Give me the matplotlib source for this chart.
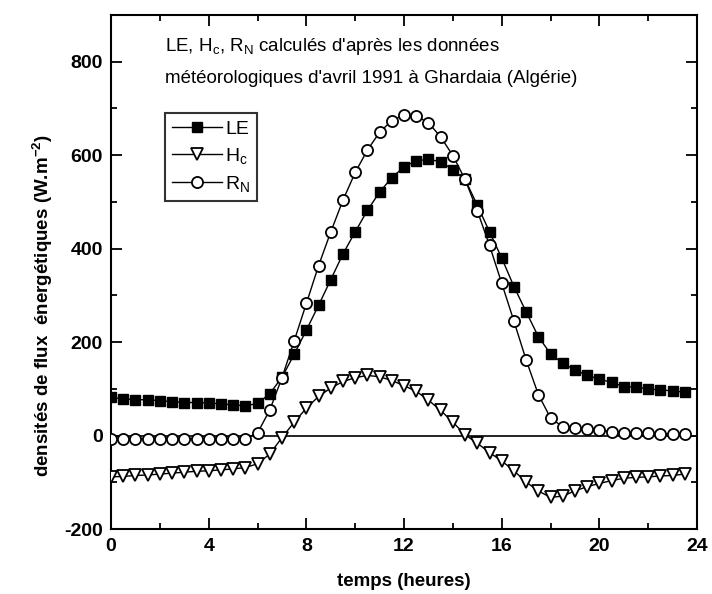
import numpy as np
import matplotlib
matplotlib.use("Agg")
import matplotlib.pyplot as plt
from matplotlib.ticker import MultipleLocator

plt.rcParams['font.family'] = ['Liberation Sans', 'DejaVu Sans']
plt.rcParams['mathtext.fontset'] = 'custom'
plt.rcParams['mathtext.rm'] = 'Liberation Sans'
plt.rcParams['mathtext.it'] = 'Liberation Sans'
plt.rcParams['mathtext.bf'] = 'Liberation Sans:bold'
plt.rcParams['axes.unicode_minus'] = False

# half-hourly values, 0 h to 23.5 h
hours = np.arange(0, 24, 0.5)

le = [82, 79, 77, 77, 75, 73, 71, 71, 70, 68, 66, 64,
      69, 90, 125, 174, 226, 279, 334, 389, 436, 482, 521, 552,
      575, 588, 591, 586, 569, 548, 493, 436, 380, 319, 265, 212,
      175, 155, 141, 129, 121, 114, 105, 104, 100, 98, 96, 93]

hc = [-88, -87, -85, -84, -82, -80, -78, -76, -75, -73, -71, -68,
      -60, -39, -4, 29, 59, 84, 102, 116, 124, 129, 126, 118,
      107, 95, 76, 54, 29, 2, -16, -36, -54, -75, -99, -118,
      -132, -129, -118, -109, -102, -96, -91, -89, -88, -86, -85, -82]

rn = [-6, -6, -6, -6, -6, -6, -6, -6, -6, -6, -6, -6,
      6, 55, 124, 203, 283, 364, 436, 504, 563, 611, 649, 674,
      686, 684, 669, 639, 599, 548, 481, 407, 326, 245, 162, 88,
      38, 19, 16, 14, 12, 9, 6, 5, 5, 4, 4, 4]

fig = plt.figure(figsize=(7.12, 5.94), dpi=100)
ax = fig.add_axes([0.156, 0.109, 0.823, 0.866])

ax.axhline(0, color="black", lw=1.2, zorder=1)

ax.plot(hours, le, color="black", lw=1, marker="s", ms=7.5,
        mfc="black", mec="black", label="LE", zorder=3)
ax.plot(hours, hc, color="black", lw=1, marker="v", ms=8.5,
        mfc="white", mec="black", mew=1.3, label="H$_\\mathregular{c}$", zorder=3)
ax.plot(hours, rn, color="black", lw=1, marker="o", ms=8,
        mfc="white", mec="black", mew=1.3, label="R$_\\mathregular{N}$", zorder=3)

ax.set_xlim(0, 24)
ax.set_ylim(-200, 900)
ax.xaxis.set_major_locator(MultipleLocator(4))
ax.xaxis.set_minor_locator(MultipleLocator(2))
ax.yaxis.set_minor_locator(MultipleLocator(100))
ax.set_yticks([-200, 0, 200, 400, 600, 800])

ax.tick_params(which="both", direction="in", top=True, right=True,
               width=1.3, colors="black")
ax.tick_params(which="major", length=8, labelsize=14, pad=6)
ax.tick_params(which="minor", length=4)
for lab in ax.get_xticklabels() + ax.get_yticklabels():
    lab.set_fontweight("bold")
for sp in ax.spines.values():
    sp.set_linewidth(1.5)

ax.set_xlabel("temps (heures)", fontsize=13.5, fontweight="bold", labelpad=13)
ax.set_ylabel("densités de flux  énergétiques (W.m$^{\\mathregular{-2}}$)",
              fontsize=13.5, fontweight="bold")
ax.yaxis.set_label_coords(-0.095, 0.434)

ax.text(0.092, 0.938, "LE, H$_\\mathregular{c}$, R$_\\mathregular{N}$ calculés d'après les données",
        transform=ax.transAxes, fontsize=13.5, va="center", ha="left")
ax.text(0.092, 0.877, "météorologiques d'avril 1991 à Ghardaia (Algérie)",
        transform=ax.transAxes, fontsize=13.5, va="center", ha="left")

leg = ax.legend(loc="upper left", bbox_to_anchor=(0.092, 0.809), fontsize=14,
                frameon=True, fancybox=False, edgecolor="black",
                handlelength=2.6, borderpad=0.35, labelspacing=0.42,
                handletextpad=0.15, borderaxespad=0)
leg.get_frame().set_linewidth(1.5)

fig.savefig("out.png", dpi=100)
